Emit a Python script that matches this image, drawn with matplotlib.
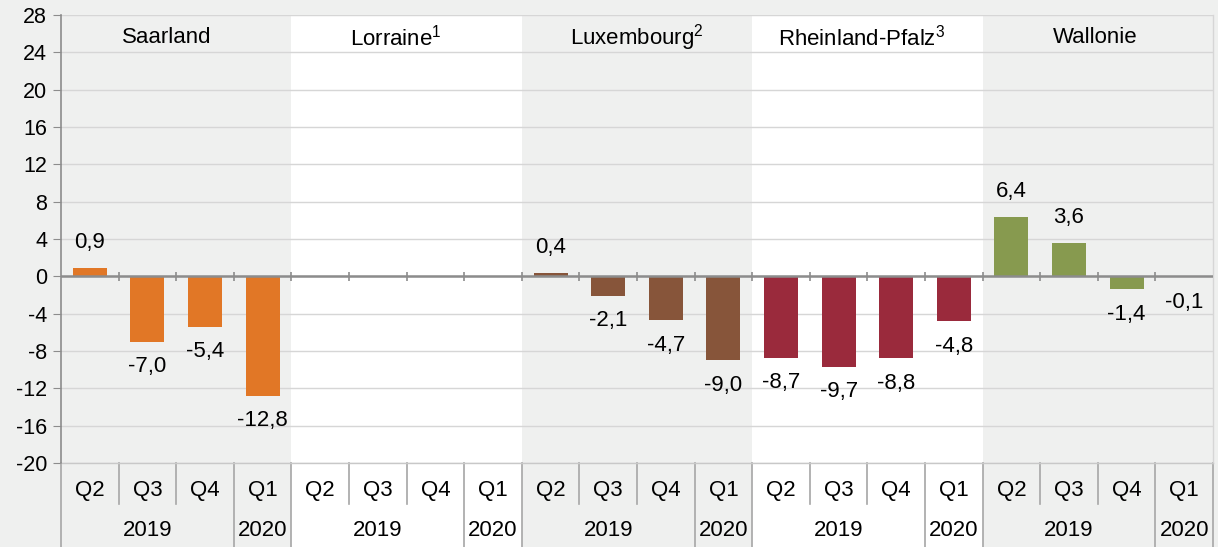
import numpy as np
import matplotlib
matplotlib.use('Agg')
import matplotlib.pyplot as plt
import matplotlib.transforms as mtransforms
from matplotlib.patches import Rectangle

plt.rcParams['font.family'] = ['Liberation Sans', 'DejaVu Sans']
plt.rcParams['axes.unicode_minus'] = False

# data
regions = ['Saarland', 'Lorraine$^{\\mathregular{1}}$', 'Luxembourg$^{\\mathregular{2}}$',
           'Rheinland-Pfalz$^{\\mathregular{3}}$', 'Wallonie']
quarters = ['Q2', 'Q3', 'Q4', 'Q1']
years = ['2019', '2020']
saarland = [0.9, -7.0, -5.4, -12.8]
lorraine = [np.nan, np.nan, np.nan, np.nan]
luxembourg = [0.4, -2.1, -4.7, -9.0]
rlp = [-8.7, -9.7, -8.8, -4.8]
wallonie = [6.4, 3.6, -1.4, -0.1]
series = [saarland, lorraine, luxembourg, rlp, wallonie]
colors = ['#e17726', '#87553a', '#87553a', '#9a2a3c', '#879a4f']
shaded = [True, False, True, False, True]
title_shift = [-0.17, -0.19, 0.0, -0.1, -0.05]   # titles sit a bit left in the original

bg = '#eff0ef'
fs = 16
W, H = 1218, 547
fig = plt.figure(figsize=(W / 100, H / 100), dpi=100, facecolor=bg)
ax = fig.add_axes([61 / W, (H - 463) / H, (1213 - 61) / W, (463 - 15) / H])
ax.set_facecolor('none')

n = len(regions) * 4
ax.set_xlim(-0.5, n - 0.5)
ax.set_ylim(-20, 28)

# white bands for the unshaded regions (reach down through the labels)
trans = mtransforms.blended_transform_factory(ax.transData, fig.transFigure)
for i, sh in enumerate(shaded):
    if not sh:
        ax.add_patch(Rectangle((i * 4 - 0.5, 0), 4, (H - 15) / H, transform=trans,
                               facecolor='white', edgecolor='none', clip_on=False, zorder=0))

ax.set_yticks(np.arange(-20, 29, 4))
ax.yaxis.grid(True, color='#d6d6d6', linewidth=1)
ax.set_axisbelow(True)
for s in ['top', 'right', 'bottom']:
    ax.spines[s].set_visible(False)
ax.spines['left'].set_color('#8c8c8c')
ax.spines['left'].set_linewidth(1.2)
ax.spines['left'].set_bounds(-20, 28)
ax.tick_params(axis='y', length=6, color='#8c8c8c', labelsize=15.5, pad=4)

# bars and value labels
for i, vals in enumerate(series):
    x = np.arange(4) + i * 4
    ax.bar(x, vals, width=0.59, color=colors[i], zorder=3)
    for xx, v in zip(x, vals):
        if np.isnan(v):
            continue
        off = 18 if v >= 0 else -18
        ax.annotate(f'{v:.1f}'.replace('.', ','), (xx, v), xytext=(0, off),
                    textcoords='offset points', ha='center', va='center',
                    fontsize=fs, zorder=4)
    ax.text(i * 4 + 1.5 + title_shift[i], 25.6, regions[i], ha='center',
            va='center', fontsize=fs)

# zero line with boundary ticks
ax.axhline(0, color='#8c8c8c', linewidth=1.8, zorder=4)
bounds = np.arange(0, n + 1) - 0.5
ax.vlines(bounds[1:-1], -0.45, 0.45, color='#8c8c8c', linewidth=1.2, zorder=4)

# two-level category axis
ax.set_xticks(np.arange(n))
ax.set_xticklabels(quarters * len(regions), fontsize=fs)
ax.tick_params(axis='x', length=0, pad=12)
sep = mtransforms.blended_transform_factory(ax.transData, fig.transFigure)
for b in bounds:
    k = int(b + 0.5)
    full = (k % 4 == 0) or (k % 4 == 3)
    y0 = 0 if full else (H - 504) / H
    ax.plot([b, b], [y0, (H - 463) / H], transform=sep, color='#a6a6a6',
            linewidth=1.2, clip_on=False, zorder=1)
ax.plot([n - 0.5, n - 0.5], [(H - 463) / H, (H - 15) / H], transform=sep,
        color='#d6d6d6', linewidth=1, clip_on=False, zorder=1)
ax.plot([-0.5, n - 0.5], [(H - 463) / H] * 2, transform=sep, color='#c8c8c8',
        linewidth=1, clip_on=False, zorder=1)
for i in range(len(regions)):
    ax.text(i * 4 + 1, (H - 530) / H, years[0], transform=sep, ha='center',
            va='center', fontsize=fs)
    ax.text(i * 4 + 3, (H - 530) / H, years[1], transform=sep, ha='center',
            va='center', fontsize=fs)

plt.savefig('out.png', dpi=100, facecolor=bg)
